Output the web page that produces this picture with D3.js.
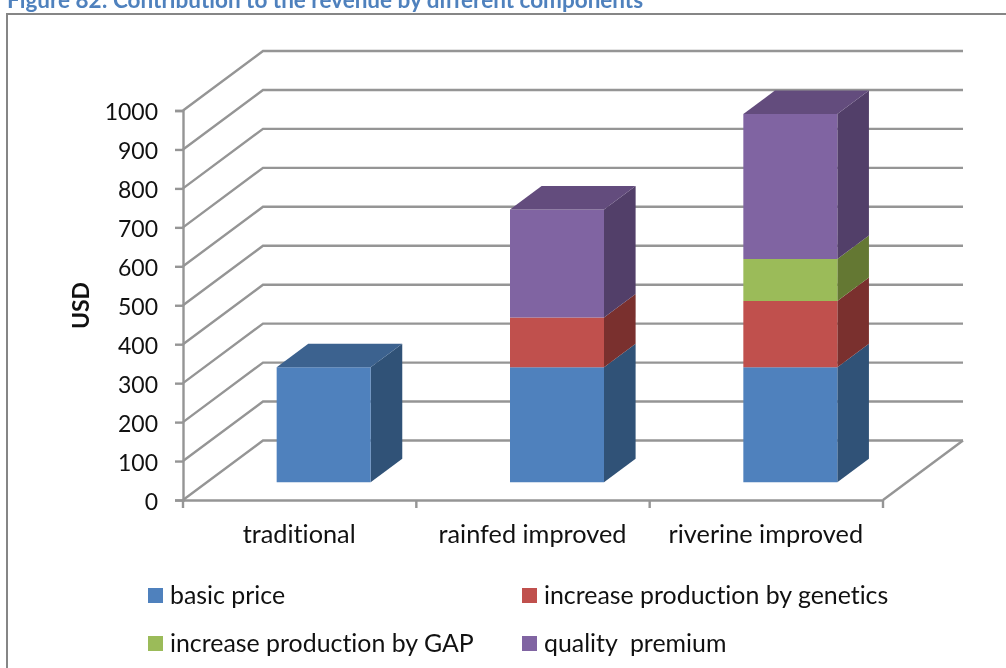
<!DOCTYPE html>
<html><head><meta charset="utf-8">
<script src="https://cdn.jsdelivr.net/npm/d3@7"></script>
<style>
html,body{margin:0;padding:0;background:#fff;overflow:hidden}
svg{filter:blur(0.45px);display:block}
text{font-family:Lato,"Open Sans",sans-serif;fill:#111;font-variant-ligatures:none}
</style></head><body>
<svg id="c" width="1006" height="668"></svg>
<script>
const title = "Figure 82: Contribution to the revenue by different components";
const yTitle = "USD";
const categories = ["traditional", "rainfed improved", "riverine improved"];
const seriesNames = ["basic price", "increase production by genetics", "increase production by GAP", "quality  premium"];
const basicPrice = [295, 295, 295];
const genetics = [0, 128, 170];
const gap = [0, 0, 108];
const quality = [0, 277, 372];
const yTicks = [0,100,200,300,400,500,600,700,800,900,1000];
const frontColors = ["#4F81BD","#C0504D","#9BBB59","#8064A2"];
const sideColors = ["#305277","#7A302E","#647833","#523F69"];
const topColors = ["#3C628F","#93403D","#7A9141","#634C7D"];

const W=1006,H=668;
const svg=d3.select("#c");
const seriesArrays=[basicPrice,genetics,gap,quality];
const rows=categories.map((c,i)=>{const r={cat:c};seriesNames.forEach((s,k)=>r[s]=seriesArrays[k][i]);return r;});
const stacked=d3.stack().keys(seriesNames)(rows);

const y=d3.scaleLinear().domain([0,1000]).range([500,110.5]);
const x=d3.scaleBand().domain(categories).range([183,883]).paddingInner(0).paddingOuter(0);
const wallDx=80, wallDy=59.5;
const proj=(px,py,f)=>[px+wallDx*f,py-wallDy*f];
const barWidthFrac=94/x.bandwidth();
const depthStart=0.30, depthEnd=0.695;
const grid="#959595";

// chart frame: only the left and top edges are visible
const frame=[[7,668],[7,14],[1006,14]];
svg.append("path").attr("d",d3.line()(frame)).attr("fill","none").attr("stroke","#868686").attr("stroke-width",2);

// title
svg.append("text").attr("x",7).attr("y",7.5).attr("font-size",22.5).attr("font-weight",700)
  .style("fill","#4F81BD").text(title);

// gridlines (front edge, wall diagonal, back wall)
const line=d3.line();
svg.append("g").selectAll("path").data(yTicks).join("path")
  .attr("d",v=>line([[x.range()[0],y(v)],proj(x.range()[0],y(v),1),proj(x.range()[1],y(v),1)]))
  .attr("fill","none").attr("stroke",grid).attr("stroke-width",2.4);
// floor right edge
svg.append("path").attr("d",line([[x.range()[1],y(0)],proj(x.range()[1],y(0),1)]))
  .attr("fill","none").attr("stroke",grid).attr("stroke-width",2.4);

// axes
const yAxis=d3.axisLeft(y).tickValues(yTicks).tickFormat(d3.format("d")).tickSize(8).tickPadding(17);
const gy=svg.append("g").attr("transform","translate(183,0)").call(yAxis);
gy.selectAll("path,line").attr("stroke",grid).attr("stroke-width",2.4);
gy.selectAll("text").attr("font-size",23).attr("dy","0.41em").style("font-family","Lato").style("fill","#111");
const xAxis=d3.axisBottom(x).tickValues([]).tickSize(0);
const gx=svg.append("g").attr("transform","translate(0,500)").call(xAxis);
gx.select("path").attr("stroke",grid).attr("stroke-width",2.4);
// category boundary ticks
const boundaries=[...categories.map(c=>x(c)),x.range()[1]];
svg.append("g").selectAll("line").data(boundaries).join("line")
  .attr("x1",d=>d).attr("x2",d=>d).attr("y1",500).attr("y2",508)
  .attr("stroke",grid).attr("stroke-width",2.4);
svg.append("g").selectAll("text").data(categories).join("text")
  .attr("x",c=>x(c)+x.bandwidth()/2-0.5).attr("y",542.5).attr("text-anchor","middle")
  .attr("font-size",25.3).text(c=>c);

// y title
svg.append("text").attr("transform","translate(89,305.5) rotate(-90)").attr("text-anchor","middle")
  .attr("font-size",23).attr("font-weight",700).text(yTitle);

// bars
const gb=svg.append("g");
const poly=pts=>"M"+pts.map(p=>p.join(",")).join("L")+"Z";
categories.forEach((c,ci)=>{
  const bw=x.bandwidth()*barWidthFrac;
  const bx0=x(c)+(x.bandwidth()-bw)/2;
  const bx1=bx0+bw;
  const segs=stacked.map((s,k)=>({k,y0:s[ci][0],y1:s[ci][1]})).filter(d=>d.y1>d.y0);
  segs.forEach(d=>{
    const fl=proj(bx0,y(d.y0),depthStart), fr=proj(bx1,y(d.y0),depthStart);
    const tl=proj(bx0,y(d.y1),depthStart), tr=proj(bx1,y(d.y1),depthStart);
    const br=proj(bx1,y(d.y0),depthEnd), trb=proj(bx1,y(d.y1),depthEnd);
    gb.append("path").attr("d",poly([fr,tr,trb,br])).attr("fill",sideColors[d.k]);
    gb.append("path").attr("d",poly([fl,fr,tr,tl])).attr("fill",frontColors[d.k]);
  });
  const t=segs[segs.length-1];
  gb.append("path").attr("d",poly([
    proj(bx0,y(t.y1),depthStart),proj(bx1,y(t.y1),depthStart),
    proj(bx1,y(t.y1),depthEnd),proj(bx0,y(t.y1),depthEnd)])).attr("fill",topColors[t.k]);
});

// legend
const legendX=[148,522], legendY=[595.5,643.5];
seriesNames.forEach((s,i)=>{
  const g=svg.append("g");
  const lx=legendX[i%2], ly=legendY[Math.floor(i/2)];
  g.append("rect").attr("x",lx).attr("y",ly-7.5).attr("width",15).attr("height",15).attr("fill",frontColors[i]);
  g.append("text").attr("x",lx+22).attr("y",ly+8).attr("font-size",24.9).style("white-space","pre").text(s);
});
</script></body></html>
